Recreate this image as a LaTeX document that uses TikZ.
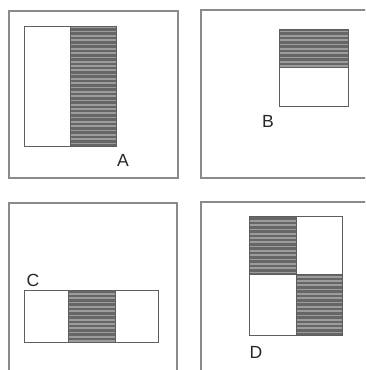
\documentclass[tikz,border=0pt]{standalone}
\usepackage{fontspec}
\setmainfont{Liberation Sans}
\usepackage{xcolor}
\definecolor{frame}  {HTML}{8A8A8A}
\definecolor{edge}   {HTML}{5E5E5E}
\definecolor{dark}   {HTML}{666666}
\definecolor{light}  {HTML}{9C9C9C}
\tikzset{
  outerbox/.style ={draw=frame, line width=0.9pt},
  innerbox/.style ={draw=edge, line width=0.8pt},
  stripe/.style   ={draw=light, line width=1.5pt},
  tag/.style      ={font=\fontsize{15}{15}\selectfont, text=black!85, inner sep=0pt},
}
% shaded block with horizontal stripes: x1,y1,x2,y2
\newcommand{\stripedblock}[4]{%
  \begin{scope}
    \clip (#1,#2) rectangle (#3,#4);
    \fill[dark] (#1,#2) rectangle (#3,#4);
    \foreach \yy in {1.5,5.8,...,370} \draw[stripe] (#1,\yy) -- (#3,\yy);
  \end{scope}}

\begin{document}
\begin{tikzpicture}[x=0.03cm,y=-0.03cm]
  \useasboundingbox (0,0) rectangle (365,370);
  \clip (0,0) rectangle (365,370);

  % outer frames
  \draw[outerbox] (9,11) rectangle (178,178);
  \draw[outerbox] (380,10) -- (201,10) -- (201,178) -- (380,178);
  \draw[outerbox] (9,380) -- (9,203) -- (177,203) -- (177,380);
  \draw[outerbox] (380,202) -- (201,202) -- (201,380);

  % A
  \stripedblock{70}{26}{116}{146}
  \draw[innerbox] (24,26) rectangle (116,146);
  \draw[innerbox] (70,26) -- (70,146);
  \node[tag] (la) at (123,160) {A};

  % B
  \stripedblock{279}{29}{348}{67}
  \draw[innerbox] (279,29) rectangle (348,106);
  \draw[innerbox] (279,67) -- (348,67);
  \node[tag] (lb) at (268,121) {B};

  % C
  \stripedblock{68}{290}{115}{342}
  \draw[innerbox] (24,290) rectangle (158,342);
  \draw[innerbox] (68,290) -- (68,342) (115,290) -- (115,342);
  \node[tag] (lc) at (33,280) {C};

  % D
  \stripedblock{249}{216}{296}{274}
  \stripedblock{296}{274}{342}{335}
  \draw[innerbox] (249,216) rectangle (342,335);
  \draw[innerbox] (296,216) -- (296,335) (249,274) -- (342,274);
  \node[tag] (ld) at (256,352) {D};
\end{tikzpicture}
\end{document}
